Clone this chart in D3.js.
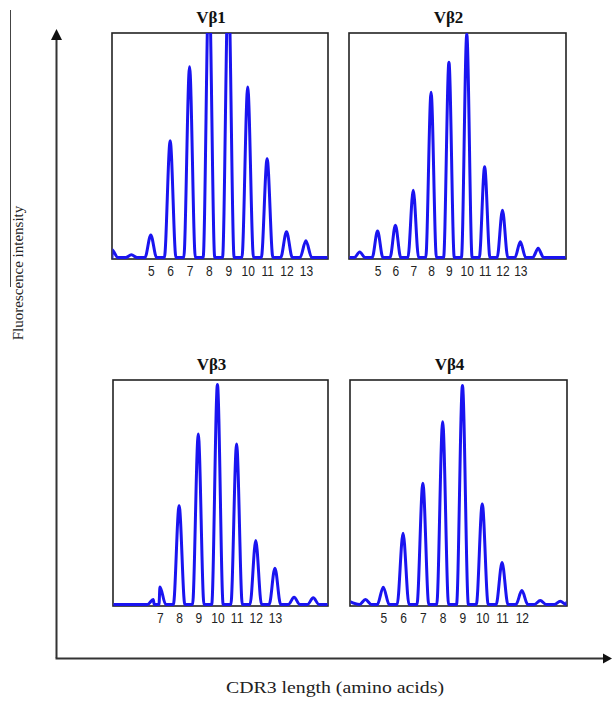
<!DOCTYPE html>
<html>
<head>
<meta charset="utf-8">
<script src="https://cdn.jsdelivr.net/npm/d3@7"></script>
<style>
body { margin: 0; background: #fff; }
</style>
</head>
<body>
<div id="chart"></div>
<script>
var w = 612;
var h = 701;

// panel titles and CDR3 length ticks
var titles = ["Vβ1", "Vβ2", "Vβ3", "Vβ4"];
var ticks1 = [5, 6, 7, 8, 9, 10, 11, 12, 13];
var ticks2 = [5, 6, 7, 8, 9, 10, 11, 12, 13];
var ticks3 = [7, 8, 9, 10, 11, 12, 13];
var ticks4 = [5, 6, 7, 8, 9, 10, 11, 12];

// peak positions (amino acids) and heights (% of panel height)
var peaks1 = [3, 4, 5, 6, 7, 8, 9, 10, 11, 12, 13];
var heights1 = [3.5, 1.2, 10, 52, 85, 125, 125, 76, 44, 11.5, 7.5];
var peaks2 = [4, 5, 6, 7, 8, 9, 10, 11, 12, 13, 14];
var heights2 = [2.5, 11.8, 14.4, 30, 73.6, 87, 99.5, 40.4, 21, 7, 4.1];
var peaks3 = [6.65, 7, 8, 9, 10, 11, 12, 13, 14, 15];
var heights3 = [2.2, 7.8, 44, 76, 98, 71.5, 28.5, 16.2, 3.2, 3];
var peaks4 = [4.1, 5, 6, 7, 8, 9, 10, 11, 12, 12.93, 13.94];
var heights4 = [2.2, 7.7, 31.7, 54, 81.4, 97.6, 44.8, 18.7, 6.2, 1.8, 1.5];

// trace level at the left / right edge of each panel
var edges1 = [0, 0];
var edges2 = [0, 0];
var edges3 = [0, 0];
var edges4 = [1.3, 1.3];

// visible x range of each panel (amino acids)
var domains = [[3.0, 14.14], [3.4, 15.56], [4.55, 15.77], [3.32, 14.28]];

var panels = [
	{title: titles[0], ticks: ticks1, peaks: peaks1, heights: heights1, edges: edges1, x: 112, y: 33, w: 216, h: 226},
	{title: titles[1], ticks: ticks2, peaks: peaks2, heights: heights2, edges: edges2, x: 349, y: 33, w: 217, h: 226},
	{title: titles[2], ticks: ticks3, peaks: peaks3, heights: heights3, edges: edges3, x: 113, y: 380, w: 215, h: 226},
	{title: titles[3], ticks: ticks4, peaks: peaks4, heights: heights4, edges: edges4, x: 350, y: 380, w: 217, h: 226}
];

var footW = 0.3; // half width of a peak foot, in amino acids

var svg = d3.select("#chart")
	.append("svg")
	.attr("width", w)
	.attr("height", h);

var defs = svg.append("defs");

// stray frame line at the top left
svg.append("line")
	.attr("x1", 10.5).attr("x2", 10.5)
	.attr("y1", 10).attr("y2", 287)
	.attr("stroke", "#444")
	.attr("stroke-width", 1);

// big axes with arrows
svg.append("line")
	.attr("x1", 56.5).attr("x2", 56.5)
	.attr("y1", 658).attr("y2", 38)
	.attr("stroke", "#333")
	.attr("stroke-width", 2);
svg.append("path")
	.attr("d", "M56.5,29 L51,40 L62,40 Z")
	.attr("fill", "#111");
svg.append("line")
	.attr("x1", 55.5).attr("x2", 604)
	.attr("y1", 658.5).attr("y2", 658.5)
	.attr("stroke", "#333")
	.attr("stroke-width", 2);
svg.append("path")
	.attr("d", "M612,658.5 L603,653.5 L603,663.5 Z")
	.attr("fill", "#111");

svg.append("text")
	.attr("transform", "translate(23,273) rotate(-90)")
	.attr("text-anchor", "middle")
	.attr("font-family", "Liberation Serif, Times New Roman, serif")
	.attr("font-size", 15)
	.attr("fill", "#222")
	.text("Fluorescence intensity");

svg.append("text")
	.attr("x", 335)
	.attr("y", 693)
	.attr("text-anchor", "middle")
	.attr("font-family", "Liberation Serif, Times New Roman, serif")
	.attr("font-size", 16)
	.attr("textLength", 218)
	.attr("lengthAdjust", "spacingAndGlyphs")
	.attr("fill", "#222")
	.text("CDR3 length (amino acids)");

panels.forEach(function(p, k) {
	var x = d3.scaleLinear().domain(domains[k]).range([p.x, p.x + p.w]);
	var y = d3.scaleLinear().domain([0, 100]).range([p.y + p.h - 1.5, p.y]);

	defs.append("clipPath")
		.attr("id", "clip" + k)
		.append("rect")
		.attr("x", p.x + 0.5).attr("y", p.y)
		.attr("width", p.w - 1).attr("height", p.h + 1);

	svg.append("rect")
		.attr("x", p.x).attr("y", p.y)
		.attr("width", p.w).attr("height", p.h)
		.attr("fill", "#fff")
		.attr("stroke", "#222")
		.attr("stroke-width", 1.6);

	var pts = [[domains[k][0], p.edges[0]], [domains[k][1], p.edges[1]]];
	p.peaks.forEach(function(d, i) {
		pts.push([d - footW, 0]);
		pts.push([d, p.heights[i]]);
		pts.push([d + footW, 0]);
	});
	pts.sort(function(a, b) { return a[0] - b[0]; });

	var line = d3.line()
		.x(function(d) { return x(d[0]); })
		.y(function(d) { return y(d[1]); })
		.curve(d3.curveMonotoneX);

	svg.append("path")
		.datum(pts)
		.attr("clip-path", "url(#clip" + k + ")")
		.attr("d", line)
		.attr("fill", "none")
		.attr("stroke", "#1a14f0")
		.attr("stroke-width", 3)
		.attr("stroke-linejoin", "round");

	svg.append("text")
		.attr("x", p.x + p.w / 2 - 9)
		.attr("y", p.y - 10)
		.attr("text-anchor", "middle")
		.attr("font-family", "Liberation Serif, Times New Roman, serif")
		.attr("font-weight", "bold")
		.attr("font-size", 17)
		.attr("fill", "#111")
		.text(p.title);

	var axis = svg.append("g")
		.attr("transform", "translate(0," + (p.y + p.h) + ")")
		.call(d3.axisBottom(x).tickValues(p.ticks).tickSize(0).tickPadding(6));
	axis.select(".domain").remove();
	axis.selectAll("text")
		.attr("font-family", "Liberation Sans, Arial, sans-serif")
		.attr("font-size", 15)
		.attr("fill", "#222")
		.attr("transform", "scale(0.8,1)");
});
</script>
</body>
</html>
